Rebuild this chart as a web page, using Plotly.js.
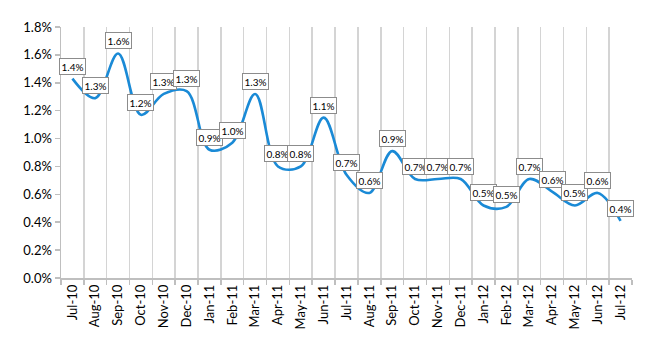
<!DOCTYPE html>
<html>
<head>
<meta charset="utf-8">
<script src="https://cdn.plot.ly/plotly-3.0.1.min.js"></script>
<style>html,body{margin:0;padding:0;background:#fff;}#chart{width:650px;height:350px;}</style>
</head>
<body>
<div id="chart"></div>
<script>
const months = ["Jul-10","Aug-10","Sep-10","Oct-10","Nov-10","Dec-10","Jan-11","Feb-11","Mar-11","Apr-11","May-11","Jun-11","Jul-11","Aug-11","Sep-11","Oct-11","Nov-11","Dec-11","Jan-12","Feb-12","Mar-12","Apr-12","May-12","Jun-12","Jul-12"];
const rates = [1.43,1.29,1.61,1.17,1.32,1.34,0.92,0.97,1.32,0.80,0.80,1.15,0.74,0.61,0.91,0.71,0.71,0.71,0.52,0.51,0.71,0.62,0.52,0.61,0.41];
const yTicks = [0,0.2,0.4,0.6,0.8,1.0,1.2,1.4,1.6,1.8];

const trace = {
  x: months, y: rates, type: 'scatter', mode: 'lines',
  line: {color: '#1a8ad6', width: 2.6, shape: 'spline', smoothing: 1},
  hoverinfo: 'skip'
};

const annotations = months.map((m, i) => ({
  x: m, y: rates[i], xref: 'x', yref: 'y',
  text: rates[i].toFixed(1) + '%',
  showarrow: false, yshift: 12.5,
  bgcolor: '#ffffff', bordercolor: '#8c8c8c', borderwidth: 1, borderpad: 1.5,
  font: {family: 'Lato, "Open Sans", sans-serif', size: 10, color: '#000'}
}));

const layout = {
  width: 650, height: 350,
  margin: {l: 61, r: 18, t: 27, b: 72},
  paper_bgcolor: '#fff', plot_bgcolor: '#fff',
  showlegend: false,
  font: {family: 'Lato, "Open Sans", sans-serif', color: '#000'},
  xaxis: {
    type: 'category', tickson: 'boundaries',
    showgrid: true, gridcolor: '#d4d4d4', gridwidth: 1.5,
    showline: true, linecolor: '#bfbfbf', linewidth: 1.5,
    ticks: 'outside', ticklen: 5, tickcolor: '#bfbfbf', tickwidth: 1.5,
    tickangle: -90, tickfont: {size: 13, color: '#000'},
    range: [-0.5, months.length - 0.5], fixedrange: true
  },
  yaxis: {
    range: [0, 1.8], tickvals: yTicks,
    ticktext: yTicks.map(v => v.toFixed(1) + '%'),
    showgrid: false, zeroline: false,
    showline: true, linecolor: '#bfbfbf', linewidth: 1.5,
    ticks: 'outside', ticklen: 5, tickcolor: '#bfbfbf', tickwidth: 1.5,
    tickfont: {size: 13, color: '#000'}, fixedrange: true
  },
  annotations: annotations
};

Plotly.newPlot('chart', [trace], layout, {staticPlot: true, displayModeBar: false});
</script>
</body>
</html>
